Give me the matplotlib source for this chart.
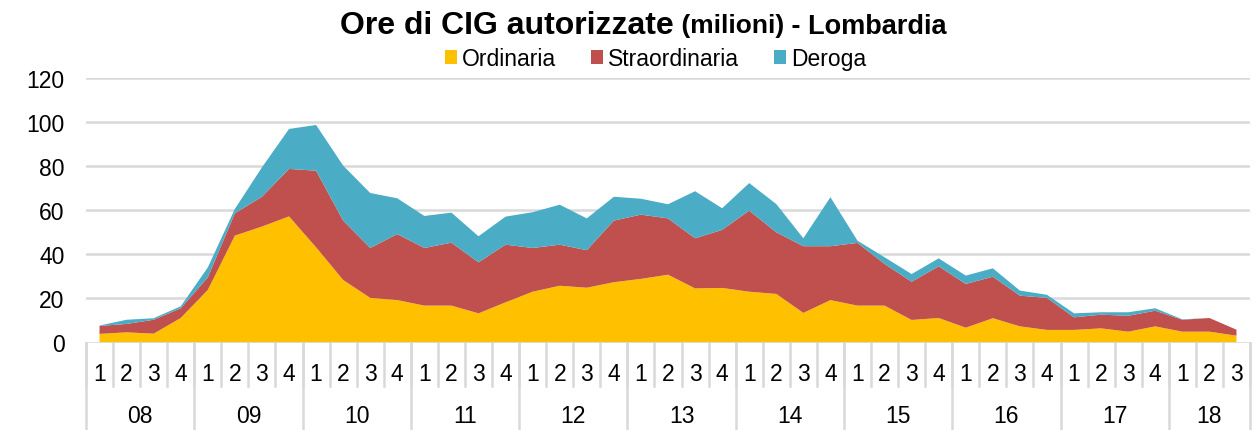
import matplotlib
matplotlib.use("Agg")
import matplotlib.pyplot as plt
from matplotlib.patches import Patch
import numpy as np

plt.rcParams['font.family'] = ['Liberation Sans', 'DejaVu Sans']

years = ["08", "09", "10", "11", "12", "13", "14", "15", "16", "17", "18"]
quarters_per_year = [4, 4, 4, 4, 4, 4, 4, 4, 4, 4, 3]

ordinaria = [3.9, 4.6, 4.0, 11.1, 23.8, 48.4, 52.5, 57.1, 43.1, 28.3, 20.2, 19.2,
             16.7, 16.7, 13.2, 18.2, 23.0, 25.7, 24.8, 27.3, 28.8, 30.7, 24.5,
             24.7, 23.0, 22.0, 13.4, 19.2, 16.7, 16.7, 10.2, 11.1, 6.7, 11.0,
             7.3, 5.7, 5.7, 6.4, 4.9, 7.3, 4.9, 4.9, 3.1]
straordinaria = [3.6, 3.8, 6.3, 4.4, 5.7, 10.1, 13.5, 21.5, 34.7, 26.9, 22.6, 29.9,
                 26.1, 28.5, 23.1, 26.1, 19.8, 18.6, 17.0, 27.9, 29.1, 25.5, 22.7,
                 26.3, 36.7, 27.9, 30.2, 24.4, 28.4, 18.9, 17.3, 23.4, 19.8, 18.8,
                 13.9, 14.5, 5.7, 6.2, 7.2, 7.1, 5.4, 6.2, 2.7]
deroga = [0.2, 1.9, 0.7, 0.9, 4.5, 2.0, 13.3, 18.1, 20.7, 24.9, 24.9, 16.2,
          14.5, 13.6, 11.8, 12.7, 16.2, 18.1, 14.4, 10.8, 7.2, 6.4, 21.3,
          9.8, 12.5, 12.8, 3.6, 22.2, 1.0, 3.0, 3.5, 3.6, 3.8, 3.8,
          2.3, 1.4, 1.8, 1.1, 1.6, 1.1, 0.2, 0.0, 0.0]

series_names = ["Ordinaria", "Straordinaria", "Deroga"]
colors = ["#FFC000", "#C0504D", "#4BACC6"]
yticks = [0, 20, 40, 60, 80, 100, 120]

FS = 16.5
W, H = 1255, 431
fig = plt.figure(figsize=(W / 100, H / 100), dpi=100)
ax_left, ax_right = 86 / W, 1250 / W
ax_bottom, ax_top = (H - 343.5) / H, (H - 78.5) / H
ax = fig.add_axes([ax_left, ax_bottom, ax_right - ax_left, ax_top - ax_bottom])

n = len(ordinaria)
x = np.arange(n)
ax.stackplot(x, ordinaria, straordinaria, deroga, colors=colors, linewidth=0, zorder=3)

ax.set_xlim(-0.5, n - 0.5)
ax.set_ylim(0, 120)
ax.set_yticks(yticks)
ax.set_yticklabels([str(v) for v in yticks], fontsize=FS)
ax.tick_params(axis='y', length=0, pad=15.5)
ax.set_xticks([])
for sp in ax.spines.values():
    sp.set_visible(False)
grid_c = "#D9D9D9"
for v in yticks:
    ax.axhline(v, color=grid_c, lw=1.8, zorder=1 if v else 4)

# multi-level category axis
trans = matplotlib.transforms.blended_transform_factory(ax.transData, ax.transAxes)
q_labels = []
for q in quarters_per_year:
    q_labels += [str(i + 1) for i in range(q)]
for i, lab in enumerate(q_labels):
    ax.text(i, -0.116, lab, transform=trans, ha='center', va='center', fontsize=FS)
# quarter separators
for i in range(n + 1):
    ax.plot([i - 0.5, i - 0.5], [0, -0.166], transform=trans, color=grid_c, lw=1.8, clip_on=False)
# year separators and labels
start = 0
for y, q in zip(years, quarters_per_year):
    ax.plot([start - 0.5, start - 0.5], [0, -0.33], transform=trans, color=grid_c, lw=1.8, clip_on=False)
    ax.text(start + (q - 1) / 2, -0.274, y, transform=trans, ha='center', va='center', fontsize=FS)
    start += q
ax.plot([start - 0.5, start - 0.5], [0, -0.33], transform=trans, color=grid_c, lw=1.8, clip_on=False)

# legend
handles = [Patch(facecolor=c, edgecolor='none', label=l) for c, l in zip(colors, series_names)]
fig.legend(handles=handles, loc='center', bbox_to_anchor=(655.5 / W, 1 - 60 / H), ncol=3,
           frameon=False, fontsize=FS, handlelength=0.55, handleheight=0.55,
           handletextpad=0.22, columnspacing=1.5, borderpad=0, borderaxespad=0)

# title with mixed sizes
parts = [("Ore di CIG autorizzate", 23), (" (milioni)", 19), (" - Lombardia", 19.5)]
renderer = fig.canvas.get_renderer()
texts = []
widths = []
for s, fs in parts:
    t = fig.text(0, 0.9, s, fontsize=fs, fontweight='bold', va='baseline')
    texts.append(t)
    widths.append(t.get_window_extent(renderer).width)
total = sum(widths)
xc = 643
xpos = xc - total / 2
base_y = 1 - 33.5 / H
for t, w in zip(texts, widths):
    t.set_position((xpos / W, base_y))
    xpos += w

fig.savefig("out.png", dpi=100)
